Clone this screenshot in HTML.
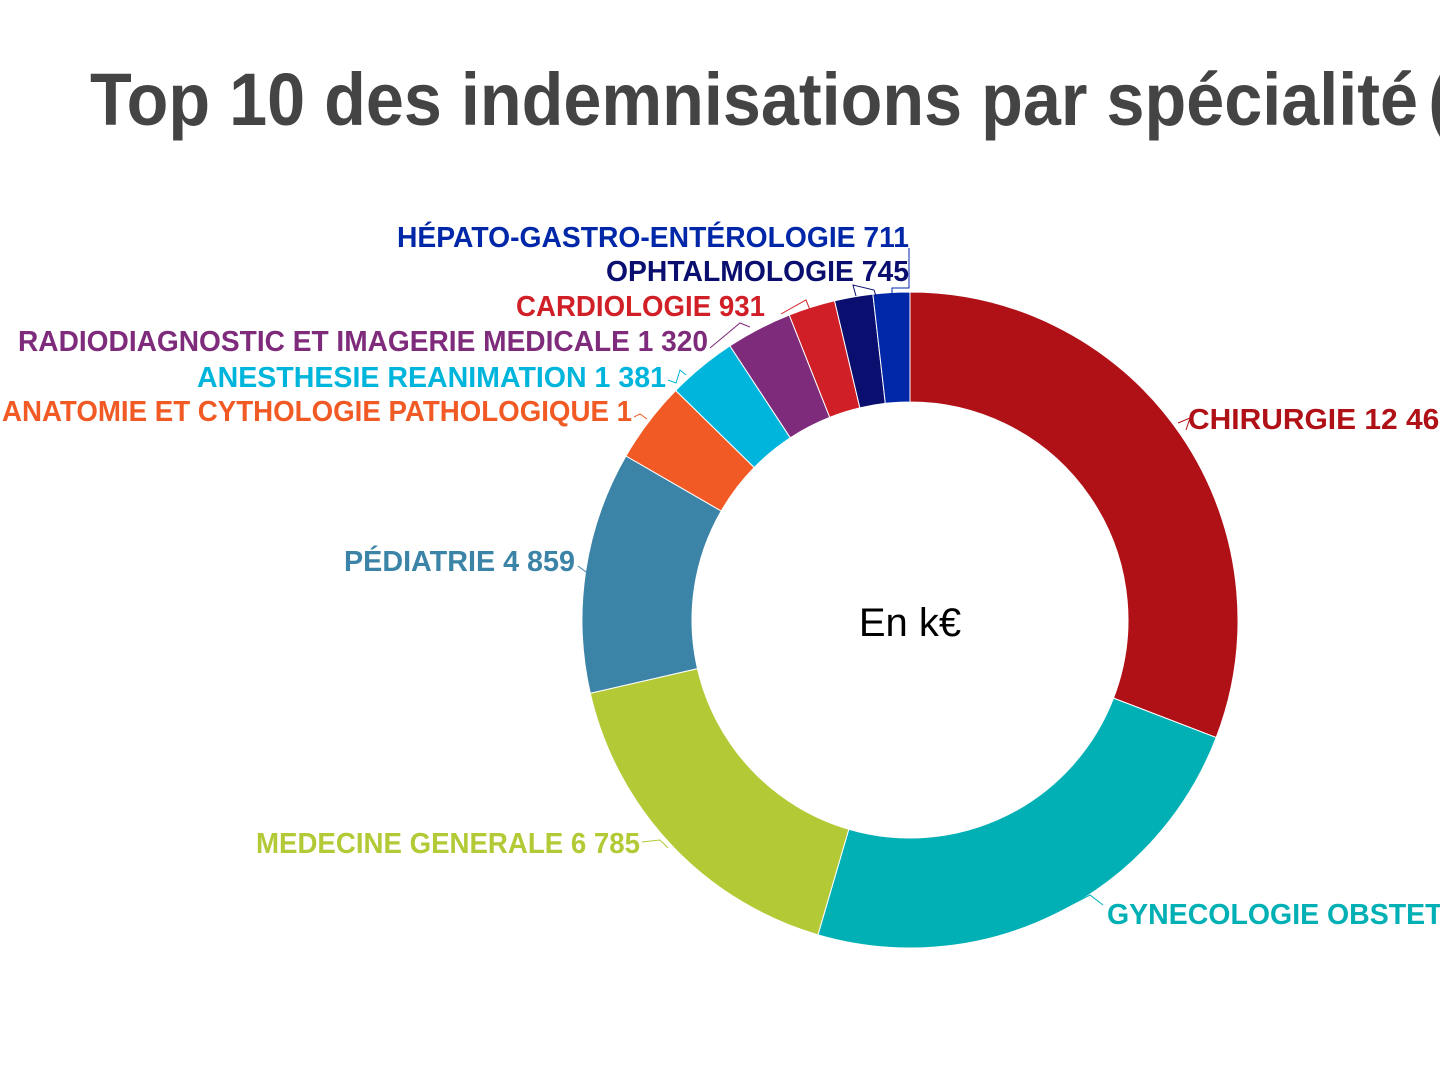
<!DOCTYPE html>
<html><head><meta charset="utf-8"><style>
html,body{margin:0;padding:0;background:#fff;width:1440px;height:1080px;overflow:hidden}
svg{display:block}
text{font-family:"Liberation Sans",sans-serif;font-weight:bold}
</style></head><body>
<svg id="s" width="1440" height="1080" viewBox="0 0 1440 1080">
<text x="90" y="125" font-size="74" fill="#444" textLength="1328" lengthAdjust="spacingAndGlyphs">Top 10 des indemnisations par spécialité</text>
<text x="1428" y="125" font-size="74" fill="#444">(</text>
<g id="pie"></g>
<g font-size="29">
<text x="1188" y="429" fill="#b01117" textLength="268" lengthAdjust="spacingAndGlyphs">CHIRURGIE 12 465</text>
<text x="1107" y="924" fill="#00b0b5" textLength="505" lengthAdjust="spacingAndGlyphs">GYNECOLOGIE OBSTETRIQUE 9 590</text>
<text x="256" y="853" fill="#b3c935" textLength="384" lengthAdjust="spacingAndGlyphs">MEDECINE GENERALE 6 785</text>
<text x="344" y="571" fill="#3c84a7" textLength="231" lengthAdjust="spacingAndGlyphs">PÉDIATRIE 4 859</text>
<text x="2" y="421" fill="#f15a24" textLength="630" lengthAdjust="spacingAndGlyphs">ANATOMIE ET CYTHOLOGIE PATHOLOGIQUE 1</text>
<text x="197" y="387" fill="#00b5dc" textLength="469" lengthAdjust="spacingAndGlyphs">ANESTHESIE REANIMATION 1 381</text>
<text x="18" y="351" fill="#7f2b7b" textLength="690" lengthAdjust="spacingAndGlyphs">RADIODIAGNOSTIC ET IMAGERIE MEDICALE 1 320</text>
<text x="516" y="316" fill="#d01f26" textLength="249" lengthAdjust="spacingAndGlyphs">CARDIOLOGIE 931</text>
<text x="606" y="281" fill="#0a0e6e" textLength="303" lengthAdjust="spacingAndGlyphs">OPHTALMOLOGIE 745</text>
<text x="397" y="247" fill="#0027a8" textLength="512" lengthAdjust="spacingAndGlyphs">HÉPATO-GASTRO-ENTÉROLOGIE 711</text>
</g>
<g fill="none" stroke-width="1">
<polyline points="1178,423 1190,418 1186,430" stroke="#b01117"/>
<polyline points="1057,912 1090,895 1103,905" stroke="#00b0b5"/>
<polyline points="668,848 660,840 642,842" stroke="#b3c935"/>
<polyline points="586,572 578,566" stroke="#3c84a7"/>
<polyline points="647,419 640,414 634,417" stroke="#f15a24"/>
<polyline points="686,375 680,370 676,383 668,380" stroke="#00b5dc"/>
<polyline points="750,327 740,323 710,348" stroke="#7f2b7b"/>
<polyline points="810,310 806,300 781,314" stroke="#d01f26"/>
<polyline points="856,296 853,285 874,290 876,296" stroke="#0a0e6e"/>
<polyline points="892,295 892,288 909,288 909,248" stroke="#0027a8"/>
</g>
<text x="910" y="636" font-size="40" fill="#000" text-anchor="middle" style="font-weight:normal">En k€</text>
</svg>
<script>
var cx=910,cy=620,R=328,r=218;
var b=[0,111,196.3,257.1,300,314.4,326.7,338.4,346.7,353.5,360];
var c=["#b01117","#00b0b5","#b3c935","#3c84a7","#f15a24","#00b5dc","#7f2b7b","#d01f26","#0a0e6e","#0027a8"];
function p(a,rad){a=a*Math.PI/180;return (cx+rad*Math.sin(a)).toFixed(2)+","+(cy-rad*Math.cos(a)).toFixed(2);}
var h="";
for(var i=0;i<10;i++){var a0=b[i],a1=b[i+1],l=(a1-a0)>180?1:0;
h+='<path d="M'+p(a0,R)+' A'+R+','+R+' 0 '+l+' 1 '+p(a1,R)+' L'+p(a1,r)+' A'+r+','+r+' 0 '+l+' 0 '+p(a0,r)+' Z" fill="'+c[i]+'" stroke="#fff" stroke-width="1"/>';}
document.getElementById("pie").innerHTML=h;
</script>
</body></html>
